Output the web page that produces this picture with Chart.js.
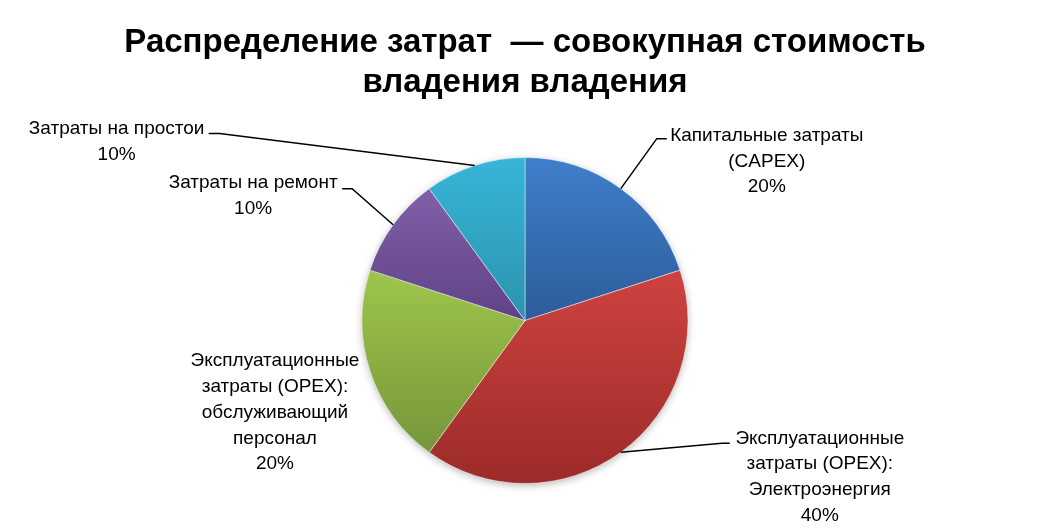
<!DOCTYPE html>
<html lang="ru">
<head>
<meta charset="utf-8">
<title>Распределение затрат</title>
<script src="https://cdn.jsdelivr.net/npm/chart.js@4.4.1/dist/chart.umd.min.js"></script>
<style>
  html, body { margin: 0; padding: 0; background: #fff; }
  #wrap { width: 1044px; height: 528px; }
</style>
</head>
<body>
<div id="wrap"><canvas id="pie" width="1044" height="528"></canvas></div>
<script>
// Данные диаграммы
const categories = [
    ['Капитальные затраты', '(CAPEX)'],
    ['Эксплуатационные', 'затраты (OPEX):', 'Электроэнергия'],
    ['Эксплуатационные', 'затраты (OPEX):', 'обслуживающий', 'персонал'],
    ['Затраты на ремонт'],
    ['Затраты на простои']
];
const shares = [20, 40, 20, 10, 10];
const titleLines = ['Распределение затрат  — совокупная стоимость', 'владения владения'];

// Цвета секторов (верх / низ градиента)
const topColors = ['#3f7fcb', '#ce4341', '#9ec64b', '#8160a9', '#37b5d8'];
const bottomColors = ['#2d5c9a', '#9c2b29', '#76963a', '#5f4285', '#2c93ad'];

// Расположение подписей относительно точки на краю сектора
// dx/dy - центр первой строки; elbow - излом выноски; tail - конец выноски
const labelLayout = [
    { dx: 146, dy: -53, elbow: [36, -50], tail: [46, -50] },
    { dx: 199, dy: -14, elbow: [101, -9], tail: [109, -9] },
    { dx: -95, dy: -10, elbow: null, tail: null },
    { dx: -140, dy: -42, elbow: [-41, -36], tail: [-51, -36] },
    { dx: -358, dy: -37, elbow: [-255, -32], tail: [-266, -32] }
];
const labelFont = '19px "Liberation Sans", Arial, sans-serif';
const labelLineHeight = 25.8;

function sliceBounds(chart, i) {
    const a = chart.chartArea;
    const cy = (a.top + a.bottom) / 2;
    const r = Math.min(a.width, a.height) / 2;
    const total = shares.reduce((s, v) => s + v, 0);
    let acc = 0;
    for (let k = 0; k < i; k++) acc += shares[k];
    const start = -Math.PI / 2 + acc / total * Math.PI * 2;
    const end = start + shares[i] / total * Math.PI * 2;
    const ys = [cy, cy + r * Math.sin(start), cy + r * Math.sin(end)];
    [-Math.PI / 2, Math.PI / 2, Math.PI * 1.5].forEach(t => {
        if (t > start && t < end) ys.push(cy + r * Math.sin(t));
    });
    return [Math.min(...ys), Math.max(...ys)];
}

function sliceGradient(context) {
    const chart = context.chart;
    const i = context.dataIndex;
    if (!chart.chartArea) return topColors[i];
    const [y0, y1] = sliceBounds(chart, i);
    const g = chart.ctx.createLinearGradient(0, y0, 0, y1);
    g.addColorStop(0, topColors[i]);
    g.addColorStop(1, bottomColors[i]);
    return g;
}

// Мягкая тень под кругом
const pieShadow = {
    id: 'pieShadow',
    beforeDatasetsDraw(chart) {
        const arc = chart.getDatasetMeta(0).data[0];
        if (!arc) return;
        const ctx = chart.ctx;
        ctx.save();
        ctx.shadowColor = 'rgba(0,0,0,0.35)';
        ctx.shadowBlur = 8;
        ctx.shadowOffsetY = 2;
        ctx.fillStyle = '#fff';
        ctx.beginPath();
        ctx.arc(arc.x, arc.y, arc.outerRadius - 1, 0, Math.PI * 2);
        ctx.fill();
        ctx.restore();
    }
};

// Подписи данных с выносками
const outsideLabels = {
    id: 'outsideLabels',
    afterDatasetsDraw(chart) {
        const ctx = chart.ctx;
        const total = shares.reduce((s, v) => s + v, 0);
        chart.getDatasetMeta(0).data.forEach((arc, i) => {
            const mid = (arc.startAngle + arc.endAngle) / 2;
            const ax = arc.x + arc.outerRadius * Math.cos(mid);
            const ay = arc.y + arc.outerRadius * Math.sin(mid);
            const lay = labelLayout[i];
            ctx.save();
            if (lay.elbow) {
                ctx.strokeStyle = '#000';
                ctx.lineWidth = 1.5;
                ctx.beginPath();
                ctx.moveTo(ax, ay);
                ctx.lineTo(ax + lay.elbow[0], ay + lay.elbow[1]);
                ctx.lineTo(ax + lay.tail[0], ay + lay.tail[1]);
                ctx.stroke();
            }
            const lines = categories[i].concat([Math.round(shares[i] / total * 100) + '%']);
            ctx.fillStyle = '#000';
            ctx.font = labelFont;
            ctx.textAlign = 'center';
            ctx.textBaseline = 'middle';
            lines.forEach((t, k) => {
                ctx.fillText(t, ax + lay.dx, ay + lay.dy + k * labelLineHeight);
            });
            ctx.restore();
        });
    }
};

new Chart(document.getElementById('pie'), {
    type: 'pie',
    data: {
        labels: categories,
        datasets: [{
            data: shares,
            backgroundColor: sliceGradient,
            borderColor: 'rgba(255,255,255,0.45)',
            borderWidth: 1
        }]
    },
    options: {
        responsive: false,
        animation: false,
        layout: { padding: { top: 0, bottom: 44, left: 6, right: 0 } },
        plugins: {
            legend: { display: false },
            tooltip: { enabled: false },
            title: {
                display: true,
                text: titleLines,
                color: '#000',
                font: { family: '"Liberation Sans", Arial, sans-serif', size: 33, weight: 'bold', lineHeight: 1.22 },
                padding: { top: 23, bottom: 53.5 }
            }
        }
    },
    plugins: [pieShadow, outsideLabels]
});
</script>
</body>
</html>
